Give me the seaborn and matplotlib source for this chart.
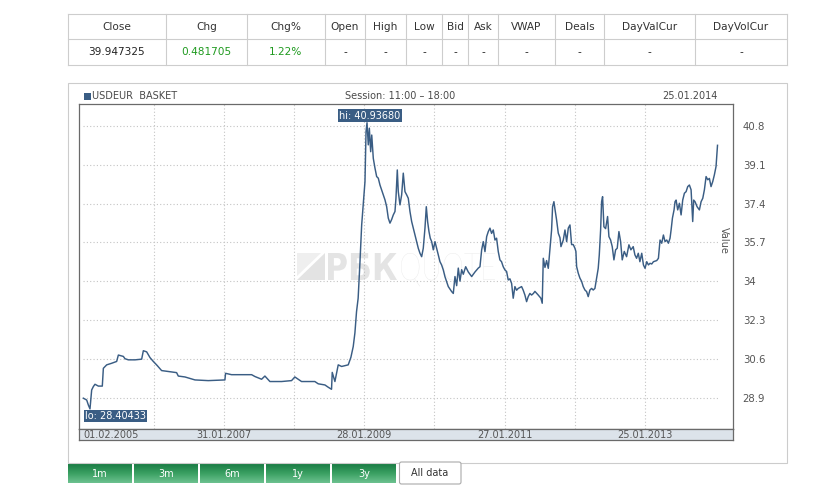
import numpy as np
import pandas as pd
import matplotlib
matplotlib.use('Agg')
import matplotlib.pyplot as plt
import seaborn as sns
from matplotlib.patches import Rectangle, Polygon, FancyBboxPatch, PathPatch
from matplotlib.colors import LinearSegmentedColormap
from matplotlib.transforms import blended_transform_factory, Affine2D
from matplotlib.textpath import TextPath
from matplotlib.font_manager import FontProperties


# quote table
table_headers = ['Close', 'Chg', 'Chg%', 'Open', 'High', 'Low', 'Bid', 'Ask',
                 'VWAP', 'Deals', 'DayValCur', 'DayVolCur']
table_values = ['39.947325', '0.481705', '1.22%', '-', '-', '-', '-', '-',
                '-', '-', '-', '-']

# USDEUR basket, decimal years
years = [
    # 2005 - 2008
    2005.085, 2005.133, 2005.157, 2005.180, 2005.204, 2005.228, 2005.251, 2005.299,
    2005.355, 2005.370, 2005.417, 2005.488, 2005.559, 2005.583, 2005.654, 2005.677,
    2005.725, 2005.820, 2005.914, 2005.938, 2005.985, 2006.033, 2006.080, 2006.127,
    2006.198, 2006.293, 2006.411, 2006.435, 2006.530, 2006.672, 2006.861, 2007.098,
    2007.107, 2007.192, 2007.477, 2007.524, 2007.619, 2007.666, 2007.737, 2007.903,
    2008.045, 2008.092, 2008.187, 2008.376, 2008.424, 2008.519, 2008.566, 2008.613,
    2008.623, 2008.661, 2008.708, 2008.756, 2008.850, 2008.888, 2008.921, 2008.945,
    # 2009 - early 2010
    2008.968, 2008.991, 2009.015, 2009.039, 2009.062, 2009.086, 2009.101, 2009.115,
    2009.133, 2009.148, 2009.167, 2009.182, 2009.204, 2009.228, 2009.252, 2009.275,
    2009.299, 2009.323, 2009.346, 2009.370, 2009.394, 2009.417, 2009.441, 2009.465,
    2009.488, 2009.512, 2009.526, 2009.545, 2009.559, 2009.583, 2009.607, 2009.630,
    2009.654, 2009.678, 2009.701, 2009.725, 2009.749, 2009.772, 2009.796, 2009.820,
    2009.843, 2009.867, 2009.891, 2009.914, 2009.938, 2009.957, 2009.976, 2009.995,
    2010.014, 2010.034, 2010.057, 2010.081, 2010.104, 2010.128, 2010.152, 2010.175,
    2010.199,
    # 2010 - mid 2011
    2010.223, 2010.270, 2010.318, 2010.341, 2010.365, 2010.389, 2010.412, 2010.436,
    2010.460, 2010.483, 2010.517, 2010.554, 2010.602, 2010.649, 2010.696, 2010.720,
    2010.744, 2010.767, 2010.791, 2010.815, 2010.838, 2010.862, 2010.885, 2010.909,
    2010.933, 2010.956, 2010.980, 2011.004, 2011.027, 2011.051, 2011.075, 2011.099,
    2011.122, 2011.146, 2011.170, 2011.193, 2011.217, 2011.241, 2011.264, 2011.312,
    2011.335, 2011.359, 2011.383, 2011.406, 2011.430, 2011.454, 2011.480,
    # mid 2011 - 2012
    2011.501, 2011.548, 2011.586, 2011.605, 2011.620, 2011.644, 2011.667, 2011.691,
    2011.715, 2011.738, 2011.752, 2011.771, 2011.786, 2011.809, 2011.833, 2011.857,
    2011.871, 2011.904, 2011.928, 2011.952, 2011.975, 2011.999, 2012.023, 2012.046,
    2012.070, 2012.084, 2012.094, 2012.117, 2012.141, 2012.165, 2012.188, 2012.212,
    2012.236, 2012.259, 2012.283, 2012.307, 2012.330, 2012.354, 2012.378, 2012.401,
    2012.416, 2012.435, 2012.449, 2012.463, 2012.482, 2012.506, 2012.534, 2012.553,
    2012.577, 2012.600, 2012.624, 2012.648, 2012.671, 2012.695, 2012.719, 2012.742,
    2012.771,
    # 2013 - Jan 2014
    2012.804, 2012.837, 2012.865, 2012.898, 2012.922, 2012.946, 2012.970, 2012.993,
    2013.017, 2013.041, 2013.064, 2013.088, 2013.112, 2013.135, 2013.159, 2013.183,
    2013.230, 2013.254, 2013.277, 2013.301, 2013.325, 2013.348, 2013.372, 2013.396,
    2013.419, 2013.434, 2013.453, 2013.476, 2013.490, 2013.505, 2013.528, 2013.552,
    2013.576, 2013.599, 2013.623, 2013.647, 2013.670, 2013.694, 2013.718, 2013.741,
    2013.755, 2013.774, 2013.803, 2013.836, 2013.860, 2013.884, 2013.907, 2013.931,
    2013.955, 2013.978, 2014.002, 2014.026, 2014.049, 2014.073, 2014.087, 2014.094,
]
values = [
    28.87, 28.79, 28.57, 28.40, 29.23, 29.38, 29.48, 29.40,
    29.40, 30.18, 30.33, 30.40, 30.48, 30.76, 30.70, 30.60,
    30.55, 30.55, 30.58, 30.95, 30.90, 30.65, 30.48, 30.33,
    30.08, 30.04, 29.99, 29.84, 29.80, 29.67, 29.64, 29.67,
    29.96, 29.90, 29.90, 29.82, 29.70, 29.84, 29.60, 29.60,
    29.64, 29.80, 29.60, 29.60, 29.50, 29.45, 29.35, 29.26,
    30.00, 29.60, 30.33, 30.26, 30.33, 30.66, 31.13, 31.73,

    32.66, 33.25, 34.85, 36.46, 37.41, 38.36, 40.55, 40.94,
    39.97, 40.70, 39.67, 40.40, 39.38, 38.95, 38.58, 38.51,
    38.21, 37.99, 37.78, 37.56, 37.26, 36.76, 36.54, 36.70,
    36.90, 37.05, 37.63, 38.87, 37.92, 37.34, 37.78, 38.73,
    37.92, 37.78, 37.63, 37.05, 36.61, 36.32, 36.02, 35.73,
    35.44, 35.22, 35.07, 35.44, 36.32, 37.26, 36.60, 36.17,
    35.88, 35.73, 35.37, 35.73, 35.44, 35.15, 34.85, 34.71,
    34.49,

    34.19, 33.76, 33.54, 33.46, 34.20, 33.80, 34.57, 34.00,
    34.50, 34.30, 34.63, 34.40, 34.20, 34.40, 34.57, 34.63,
    35.37, 35.73, 35.29, 35.95, 36.17, 36.32, 36.09, 36.24,
    35.80, 35.88, 35.29, 34.93, 34.85, 34.63, 34.49, 34.42,
    34.05, 34.10, 33.90, 33.25, 33.76, 33.60, 33.68, 33.76,
    33.60, 33.39, 33.10, 33.32, 33.46, 33.39, 33.46,

    33.55, 33.39, 33.25, 33.03, 35.00, 34.60, 34.90, 34.56,
    35.44, 36.24, 37.26, 37.48, 37.15, 36.68, 36.10, 35.90,
    35.51, 35.80, 36.24, 35.73, 36.32, 36.46, 35.60, 35.60,
    35.44, 35.30, 34.64, 34.35, 34.13, 33.99, 33.76, 33.61,
    33.54, 33.32, 33.61, 33.68, 33.61, 33.68, 34.13, 34.56,
    35.15, 36.24, 37.48, 37.70, 36.38, 36.30, 36.83, 35.95,
    35.80, 35.51, 34.93, 35.37, 35.44, 36.17, 35.73, 34.93,
    35.30,

    35.07, 35.59, 35.37, 35.51, 35.15, 35.00, 35.22, 34.85,
    35.22, 34.71, 34.56, 34.85, 34.71, 34.78, 34.75, 34.85,
    34.90, 35.00, 35.80, 35.66, 36.02, 35.73, 35.80, 35.66,
    35.88, 36.24, 36.76, 37.12, 37.48, 37.55, 37.12, 37.41,
    36.90, 37.55, 37.85, 37.92, 38.14, 38.21, 38.00, 36.61,
    37.55, 37.48, 37.26, 37.12, 37.48, 37.63, 38.00, 38.58,
    38.44, 38.50, 38.14, 38.36, 38.65, 39.02, 39.60, 39.95,
]

hi_text = 'hi: 40.93680'
lo_text = 'lo: 28.40433'

ytick_values = [28.9, 30.6, 32.3, 34, 35.7, 37.4, 39.1, 40.8]
ytick_labels = ['28.9', '30.6', '32.3', '34', '35.7', '37.4', '39.1', '40.8']
xtick_dates = ['2005-02-01', '2007-01-31', '2009-01-28', '2011-01-27', '2013-01-25']
xtick_labels = ['01.02.2005', '31.01.2007', '28.01.2009', '27.01.2011', '25.01.2013']
grid_dates = ['2006-02-01', '2007-01-31', '2008-01-30', '2009-01-28',
              '2010-01-28', '2011-01-27', '2012-01-26', '2013-01-25']
buttons = ['1m', '3m', '6m', '1y', '3y']


def to_date(y):
    yr = int(y)
    return pd.Timestamp(year=yr, month=1, day=1) + pd.Timedelta(days=(y - yr) * 365.25)


def fitted_text(axis, s, prop, x0, x1, y_base, cap, color):
    # watermark word squeezed into a given pixel box
    tp = TextPath((0, 0), s, size=1, prop=prop)
    bb = tp.get_extents()
    tr = Affine2D().translate(-bb.x0, 0).scale((x1 - x0) / bb.width, -cap / bb.y1).translate(x0, y_base)
    axis.add_patch(PathPatch(tr.transform_path(tp), fc=color, ec='none', zorder=1))


df = pd.DataFrame({'date': [to_date(y) for y in years], 'value': values})

W, H = 831, 496
line_color = '#3a5d84'
grid_color = '#c4c4c4'
txt_color = '#4a4a4a'
plt.rcParams['font.family'] = ['DejaVu Sans']

fig = plt.figure(figsize=(W / 100, H / 100), dpi=100)

# background layer in pixel coordinates
bg = fig.add_axes([0, 0, 1, 1])
bg.set_xlim(0, W)
bg.set_ylim(H, 0)
bg.axis('off')

# ---- table
col_edges = [68, 166, 247, 325, 365, 406, 442, 468, 498, 555, 604, 695, 787]
row_edges = [14, 39, 65]
for x in col_edges:
    bg.plot([x, x], [row_edges[0], row_edges[-1]], color='#cdcdcd', lw=0.8)
for y in row_edges:
    bg.plot([col_edges[0], col_edges[-1]], [y, y], color='#cdcdcd', lw=0.8)
val_colors = ['#222222', '#1f9a1f', '#1f9a1f'] + ['#222222'] * 9
for i, (h, v) in enumerate(zip(table_headers, table_values)):
    cx = (col_edges[i] + col_edges[i + 1]) / 2
    bg.text(cx, 26.5, h, ha='center', va='center', fontsize=7.6, color='#333333')
    bg.text(cx, 52, v, ha='center', va='center', fontsize=7.6, color=val_colors[i])

# ---- chart panel
bg.add_patch(Rectangle((68, 83), 719, 380, fc='white', ec='#cccccc', lw=0.8))
bg.add_patch(Rectangle((84, 92.5), 6.5, 7, fc=line_color, ec='none'))
bg.text(91.5, 96, 'USDEUR  BASKET', ha='left', va='center', fontsize=7, color=txt_color)
bg.text(400, 96, 'Session: 11:00 \u2013 18:00', ha='center', va='center', fontsize=7, color=txt_color)
bg.text(718, 96, '25.01.2014', ha='right', va='center', fontsize=7, color=txt_color)

# watermark logo + text (under the line)
bg.add_patch(Polygon([(297, 280), (325, 280), (325, 253)], closed=True, fc='#e3e3e3', ec='none', zorder=1))
bg.add_patch(Polygon([(297, 276), (297, 253), (321, 253)], closed=True, fc='#efefef', ec='none', zorder=1))
fitted_text(bg, '\u0420\u0411\u041a', FontProperties(family='DejaVu Sans', weight='bold'),
            328, 397, 280, 27, '#e4e4e4')
fitted_text(bg, 'QUOTE', FontProperties(family='Lato', weight='light'),
            401, 495, 280, 27, '#e6e6e6')

# ---- buttons
green = LinearSegmentedColormap.from_list('btn', ['#1b7d45', '#3ba163', '#6cc18f'])
grad = np.linspace(0, 1, 40).reshape(-1, 1)
bx = [(68, 132), (134, 198), (200, 264), (266, 330), (332, 396)]
for (x0, x1), label in zip(bx, buttons):
    bg.imshow(grad, cmap=green, extent=(x0, x1, 483, 464), origin='upper', aspect='auto')
    bg.text((x0 + x1) / 2, 474, label, ha='center', va='center', fontsize=7, color='white')
bg.add_patch(FancyBboxPatch((399.5, 462), 61.5, 22, boxstyle='round,pad=0,rounding_size=2',
                            fc='white', ec='#aaaaaa', lw=0.8))
bg.text(430, 473.5, 'All data', ha='center', va='center', fontsize=7, color='#333333')
bg.set_xlim(0, W)
bg.set_ylim(H, 0)

# ---- main chart
ax = fig.add_axes([79 / W, 1 - 429 / H, 654 / W, 325 / H])
ax.set_facecolor('none')
xlim = (to_date(2005.024), to_date(2014.314))
ax.set_xlim(xlim)
ax.set_ylim(27.52, 41.76)

first_date, last_date = df['date'].iloc[0], df['date'].iloc[-1]
ax.hlines(ytick_values, first_date, last_date, colors=grid_color, lw=0.8,
          linestyles=(0, (1, 2)), zorder=1)
ax.vlines(pd.to_datetime(grid_dates), 27.52, 41.76, colors=grid_color, lw=0.8,
          linestyles=(0, (1, 2)), zorder=1)

sns.lineplot(data=df, x='date', y='value', ax=ax, color=line_color, linewidth=1.05,
             estimator=None, sort=False, zorder=3)
ax.set_xlabel('')
ax.set_ylabel('')
ax.set_xticks([])
ax.yaxis.tick_right()
ax.set_yticks(ytick_values)
ax.set_yticklabels(ytick_labels)
ax.tick_params(axis='y', length=0, pad=7, labelsize=7.3, labelcolor='#555555')
for s in ax.spines.values():
    s.set_color('#6a6a6a')
    s.set_linewidth(0.9)

ax.text(0.986, 0.58, 'Value', rotation=270, transform=ax.transAxes, ha='center',
        va='center', fontsize=7, color='#555555')

hi_i = int(np.argmax(df['value']))
lo_i = int(np.argmin(df['value']))
box = dict(boxstyle='square,pad=0.12', fc=line_color, ec='none')
ax.annotate(hi_text, xy=(df['date'].iloc[hi_i], df['value'].iloc[hi_i]), xytext=(2, 1.5),
            textcoords='offset points', ha='center', va='bottom', fontsize=7,
            color='white', bbox=box, zorder=5)
ax.annotate(lo_text, xy=(first_date, df['value'].iloc[lo_i]), xytext=(1, -1.5),
            textcoords='offset points', ha='left', va='top', fontsize=7,
            color='white', bbox=box, zorder=5)

# date band under the plot
band = fig.add_axes([79 / W, 1 - 440 / H, 654 / W, 11 / H])
band.set_facecolor('#dce3ea')
band.set_xlim(xlim)
band.set_ylim(0, 1)
band.set_xticks([])
band.set_yticks([])
for s in band.spines.values():
    s.set_color('#6a6a6a')
    s.set_linewidth(0.9)
tr = blended_transform_factory(band.transData, band.transAxes)
for i, (d, lab) in enumerate(zip(xtick_dates, xtick_labels)):
    band.text(pd.Timestamp(d), 0.45, lab, transform=tr, ha='left' if i == 0 else 'center',
              va='center', fontsize=7, color='#555555')

fig.savefig('out.png', dpi=100)
